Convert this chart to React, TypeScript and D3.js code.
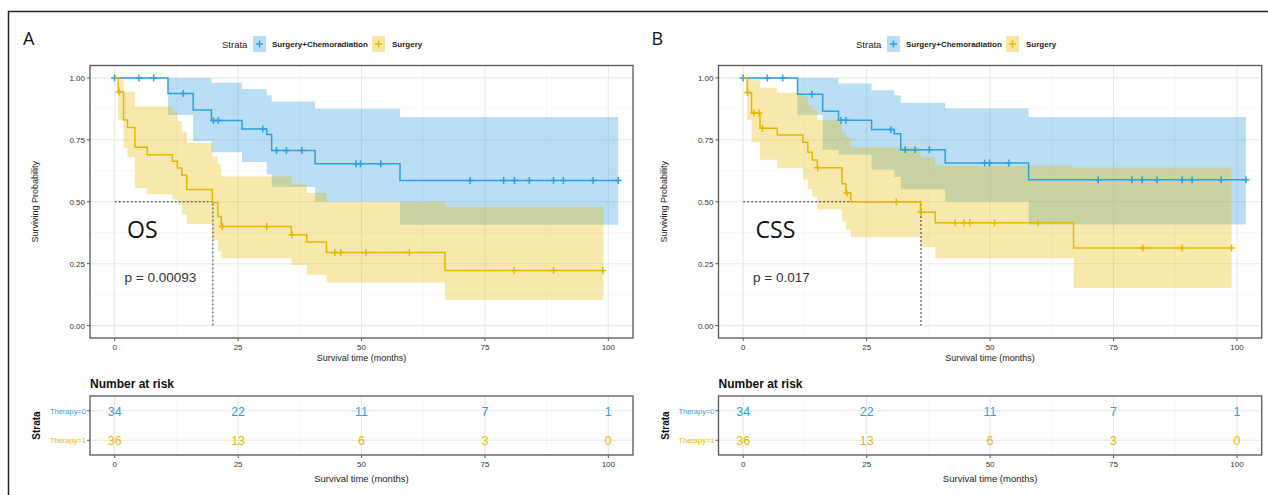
import * as d3 from 'd3'

const FONT = '"Liberation Sans", Arial, sans-serif'
const BLUE = '#2E9FDF'
const YELLOW = '#E7B800'

const xTicks = [0, 25, 50, 75, 100]
const yTicks = [0, 0.25, 0.5, 0.75, 1]
const yTickLabels = ['0.00', '0.25', '0.50', '0.75', '1.00']
const strataNames = ['Surgery+Chemoradiation', 'Surgery']
const riskLabels = ['Therapy=0', 'Therapy=1']
const riskTimes = [0, 25, 50, 75, 100]
const riskChemo = [34, 22, 11, 7, 1]
const riskSurgery = [36, 13, 6, 3, 0]

// ---- OS (panel A) ----
const osChemoTime = [0, 10.8, 15.9, 19.6, 25.8, 30.8, 31.8, 40.6, 57.8, 102]
const osChemoSurv = [1, 0.937, 0.87, 0.828, 0.794, 0.771, 0.707, 0.653, 0.586, 0.586]
const osChemoCensor = [0, 4.9, 7.9, 13.9, 20, 21, 30, 32.8, 34.8, 37.9, 48.9, 49.8, 53.9, 72, 78.8, 81, 84, 88.9, 90.9, 96.9, 102]
const osChemoCiTime = [10.8, 15.9, 19.6, 25.8, 30.8, 31.8, 40.6, 57.8, 102]
const osChemoUpper = [1, 1, 0.98, 0.955, 0.93, 0.905, 0.875, 0.842, 0.842]
const osChemoLower = [0.85, 0.744, 0.7, 0.66, 0.61, 0.56, 0.5, 0.407, 0.407]

const osSurgTime = [0, 0.7, 1.8, 2.6, 4.1, 6.6, 11.7, 12.7, 13.6, 14.6, 19.8, 20.9, 21.6, 35.8, 38.9, 42.9, 66.9, 99]
const osSurgSurv = [1, 0.943, 0.83, 0.8, 0.72, 0.69, 0.663, 0.636, 0.607, 0.549, 0.497, 0.44, 0.4, 0.367, 0.338, 0.295, 0.222, 0.222]
const osSurgCensor = [0.9, 21.8, 30.8, 35.9, 44.6, 45.8, 50.9, 59.7, 80.9, 88.9, 98.9]
const osSurgCiTime = [0.7, 1.8, 2.6, 4.1, 6.6, 11.7, 12.7, 13.6, 14.6, 19.8, 20.9, 21.6, 35.8, 38.9, 42.9, 66.9, 99]
const osSurgUpper = [1, 0.944, 0.944, 0.885, 0.885, 0.86, 0.825, 0.784, 0.737, 0.683, 0.65, 0.602, 0.57, 0.535, 0.5, 0.48, 0.48]
const osSurgLower = [0.83, 0.717, 0.68, 0.555, 0.53, 0.51, 0.49, 0.45, 0.41, 0.346, 0.3, 0.272, 0.245, 0.205, 0.174, 0.104, 0.104]

// ---- CSS (panel B) ----
const cssChemoTime = [0, 11, 16.1, 19.3, 26, 30.6, 31.9, 40.9, 57.8, 101.8]
const cssChemoSurv = [1, 0.934, 0.865, 0.829, 0.792, 0.775, 0.71, 0.656, 0.589, 0.589]
const cssChemoCensor = [0, 4.9, 8, 13.9, 19.8, 20.8, 29.9, 32.8, 34.8, 37.7, 48.9, 49.9, 53.8, 71.9, 78.7, 80.8, 83.8, 88.9, 90.9, 96.8, 101.8]
const cssChemoCiTime = [11, 16.1, 19.3, 26, 30.6, 31.9, 40.9, 57.8, 101.8]
const cssChemoUpper = [1, 1, 0.977, 0.95, 0.93, 0.9, 0.876, 0.842, 0.842]
const cssChemoLower = [0.85, 0.71, 0.69, 0.63, 0.6, 0.55, 0.5, 0.408, 0.408]

const cssSurgTime = [0, 0.8, 1.7, 3.4, 6.9, 12.1, 13.1, 14, 15, 20, 20.8, 21.8, 35.9, 38.9, 66.9, 98.9]
const cssSurgSurv = [1, 0.941, 0.858, 0.797, 0.769, 0.74, 0.7, 0.669, 0.637, 0.573, 0.535, 0.5, 0.458, 0.415, 0.313, 0.313]
const cssSurgCensor = [0.9, 2.2, 3.2, 3.9, 15.1, 21, 31, 36, 42.9, 44.7, 45.9, 50.9, 59.7, 80.9, 88.9, 98.9]
const cssSurgCiTime = [0.8, 1.7, 3.4, 6.9, 12.1, 13.1, 14, 15, 20, 20.8, 21.8, 35.9, 38.9, 66.9, 98.9]
const cssSurgUpper = [1, 0.99, 0.96, 0.94, 0.925, 0.89, 0.87, 0.83, 0.78, 0.76, 0.72, 0.68, 0.645, 0.638, 0.638]
const cssSurgLower = [0.83, 0.74, 0.67, 0.635, 0.59, 0.55, 0.52, 0.47, 0.42, 0.387, 0.357, 0.317, 0.272, 0.152, 0.152]

type Curve = {
  time: number[]
  surv: number[]
  censor: number[]
  ciTime: number[]
  upper: number[]
  lower: number[]
  color: string
}

function survAt(time: number[], surv: number[], t: number) {
  let s = surv[0]
  time.forEach((tt, i) => { if (tt <= t) s = surv[i] })
  return s
}

const PLUS = 'M-3.5,0H3.5M0,-3.5V3.5'

function KMPanel({ left, right, letter, legendX, name, pText, median, curves }: {
  left: number, right: number, letter: string, legendX: number,
  name: string, pText: string, median: number, curves: Curve[]
}) {
  const top = 65.5
  const bottom = 338
  const x = d3.scaleLinear().domain([-5, 105]).range([left, right])
  const y = d3.scaleLinear().domain([-0.05, 1.05]).range([bottom, top])
  const minorX = [12.5, 37.5, 62.5, 87.5]
  const minorY = [0.125, 0.375, 0.625, 0.875]

  // risk table
  const tTop = 396
  const tBottom = 455
  const rows = d3.scalePoint<string>().domain([riskLabels[1], riskLabels[0]]).range([tBottom, tTop]).padding(0.5)
  const riskCols = [riskChemo, riskSurgery]
  const riskColors = [BLUE, YELLOW]

  return (
    <g fontFamily={FONT}>
      <text x={left - 67} y={45} fontSize={18} fontFamily='"Open Sans", sans-serif' fill="#111">{letter}</text>

      {/* legend */}
      <g transform={`translate(${legendX},44)`}>
        <text x={0} y={3.5} fontSize={9.5} fill="#222">Strata</text>
        <rect x={31} y={-8} width={13} height={16} fill={BLUE} fillOpacity={0.35} />
        <path d={PLUS} transform="translate(37.5,0)" stroke={BLUE} strokeWidth={1.5} />
        <text x={50} y={3} fontSize={8} fontWeight={600} fill="#222">{strataNames[0]}</text>
        <rect x={150} y={-8} width={13} height={16} fill={YELLOW} fillOpacity={0.35} />
        <path d={PLUS} transform="translate(156.5,0)" stroke={YELLOW} strokeWidth={1.5} />
        <text x={170} y={3} fontSize={8} fontWeight={600} fill="#222">{strataNames[1]}</text>
      </g>

      {/* grid */}
      {minorX.map(v => <line key={'mx' + v} x1={x(v)} x2={x(v)} y1={top} y2={bottom} stroke="#f2f2f2" strokeWidth={0.6} />)}
      {minorY.map(v => <line key={'my' + v} x1={left} x2={right} y1={y(v)} y2={y(v)} stroke="#f2f2f2" strokeWidth={0.6} />)}
      {xTicks.map(v => <line key={'gx' + v} x1={x(v)} x2={x(v)} y1={top} y2={bottom} stroke="#e8e8e8" strokeWidth={1.1} />)}
      {yTicks.map(v => <line key={'gy' + v} x1={left} x2={right} y1={y(v)} y2={y(v)} stroke="#e8e8e8" strokeWidth={1.1} />)}

      {/* confidence bands */}
      {curves.map((c, k) => {
        const area = d3.area<number>()
          .x((_, i) => x(c.ciTime[i]))
          .y0((_, i) => y(c.lower[i]))
          .y1((_, i) => y(c.upper[i]))
          .curve(d3.curveStepAfter)
        return <path key={'ci' + k} d={area(c.ciTime) || ''} fill={c.color} fillOpacity={0.33} />
      })}

      {/* median lines */}
      <path d={`M${x(0)},${y(0.5)}H${x(median)}V${y(0)}`} fill="none" stroke="#333" strokeWidth={1} strokeDasharray="2,2" />

      {/* curves */}
      {curves.map((c, k) => {
        const line = d3.line<number>()
          .x((_, i) => x(c.time[i]))
          .y((_, i) => y(c.surv[i]))
          .curve(d3.curveStepAfter)
        return (
          <g key={'c' + k}>
            <path d={line(c.time) || ''} fill="none" stroke={c.color} strokeWidth={1.5} />
            {c.censor.map((t, i) => (
              <path key={i} d={PLUS} transform={`translate(${x(t)},${y(survAt(c.time, c.surv, t))})`} stroke={c.color} strokeWidth={1.5} />
            ))}
          </g>
        )
      })}

      <text x={x(2.5)} y={y(0.355)} fontSize={23} fontFamily='"Open Sans", sans-serif' fill="#111">{name}</text>
      <text x={x(2)} y={y(0.178)} fontSize={13.5} fill="#333">{pText}</text>

      {/* panel border and axes */}
      <rect x={left} y={top} width={right - left} height={bottom - top} fill="none" stroke="#555" strokeWidth={1.3} />
      {yTicks.map((v, i) => (
        <g key={'yt' + v}>
          <line x1={left - 3} x2={left} y1={y(v)} y2={y(v)} stroke="#555" />
          <text x={left - 5} y={y(v) + 3} fontSize={8} textAnchor="end" fill="#333">{yTickLabels[i]}</text>
        </g>
      ))}
      {xTicks.map(v => (
        <g key={'xt' + v}>
          <line x1={x(v)} x2={x(v)} y1={bottom} y2={bottom + 3} stroke="#555" />
          <text x={x(v)} y={bottom + 12} fontSize={8} textAnchor="middle" fill="#333">{v}</text>
        </g>
      ))}
      <text x={(left + right) / 2} y={361} fontSize={9} textAnchor="middle" fill="#222">Survival time (months)</text>
      <text transform={`translate(${left - 52},${(top + bottom) / 2}) rotate(-90)`} fontSize={9} textAnchor="middle" fill="#222">Surviving Probability</text>

      {/* risk table */}
      <text x={left} y={388} fontSize={12} fontWeight={600} fill="#111">Number at risk</text>
      {minorX.map(v => <line key={'tmx' + v} x1={x(v)} x2={x(v)} y1={tTop} y2={tBottom} stroke="#f2f2f2" strokeWidth={0.6} />)}
      {xTicks.map(v => <line key={'tgx' + v} x1={x(v)} x2={x(v)} y1={tTop} y2={tBottom} stroke="#e8e8e8" strokeWidth={1.1} />)}
      {riskLabels.map(l => <line key={'tgy' + l} x1={left} x2={right} y1={rows(l)} y2={rows(l)} stroke="#e8e8e8" strokeWidth={1.1} />)}
      {riskLabels.map((l, r) => (
        <g key={'row' + l}>
          {riskTimes.map((t, i) => (
            <text key={t} x={x(t)} y={(rows(l) || 0) + 5} fontSize={12.5} textAnchor="middle" fill={riskColors[r]}>{riskCols[r][i]}</text>
          ))}
          <line x1={left - 3} x2={left} y1={rows(l)} y2={rows(l)} stroke="#555" />
          <text x={left - 4} y={(rows(l) || 0) + 3} fontSize={7.5} textAnchor="end" fill={riskColors[r]}>{l}</text>
        </g>
      ))}
      <rect x={left} y={tTop} width={right - left} height={tBottom - tTop} fill="none" stroke="#555" strokeWidth={1.3} />
      {xTicks.map(v => (
        <g key={'txt' + v}>
          <line x1={x(v)} x2={x(v)} y1={tBottom} y2={tBottom + 3} stroke="#555" />
          <text x={x(v)} y={tBottom + 12} fontSize={8} textAnchor="middle" fill="#333">{v}</text>
        </g>
      ))}
      <text x={(left + right) / 2} y={482} fontSize={9.5} textAnchor="middle" fill="#222">Survival time (months)</text>
      <text transform={`translate(${left - 50},${(tTop + tBottom) / 2}) rotate(-90)`} fontSize={10} fontWeight={700} textAnchor="middle" fill="#111">Strata</text>
    </g>
  )
}

export default function App() {
  const osCurves: Curve[] = [
    { time: osChemoTime, surv: osChemoSurv, censor: osChemoCensor, ciTime: osChemoCiTime, upper: osChemoUpper, lower: osChemoLower, color: BLUE },
    { time: osSurgTime, surv: osSurgSurv, censor: osSurgCensor, ciTime: osSurgCiTime, upper: osSurgUpper, lower: osSurgLower, color: YELLOW },
  ]
  const cssCurves: Curve[] = [
    { time: cssChemoTime, surv: cssChemoSurv, censor: cssChemoCensor, ciTime: cssChemoCiTime, upper: cssChemoUpper, lower: cssChemoLower, color: BLUE },
    { time: cssSurgTime, surv: cssSurgSurv, censor: cssSurgCensor, ciTime: cssSurgCiTime, upper: cssSurgUpper, lower: cssSurgLower, color: YELLOW },
  ]
  return (
    <svg width={1268} height={495} style={{ position: 'absolute', left: 0, top: 0, background: '#fff' }}>
      <rect x={0} y={0} width={1268} height={495} fill="#fff" />
      <rect x={8.5} y={11.5} width={1400} height={600} fill="none" stroke="#222" strokeWidth={1.5} />
      <KMPanel left={90} right={633} letter="A" legendX={222} name="OS" pText="p = 0.00093" median={19.9} curves={osCurves} />
      <KMPanel left={718.5} right={1261.7} letter="B" legendX={856} name="CSS" pText="p = 0.017" median={36} curves={cssCurves} />
    </svg>
  )
}
